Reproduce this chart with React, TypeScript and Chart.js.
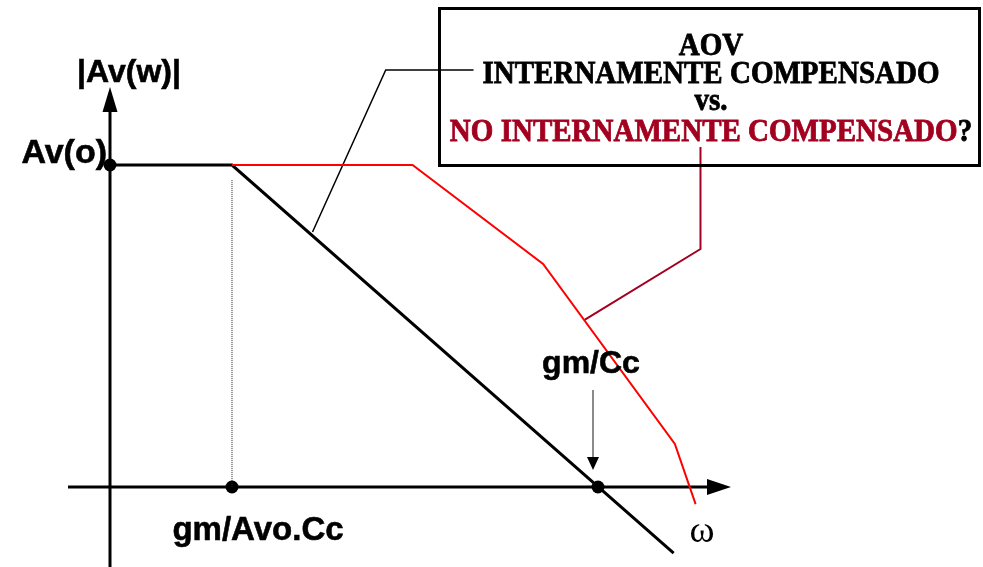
import React, { useEffect, useRef } from "react";
import { Chart, registerables } from "chart.js";

Chart.register(...registerables);

// ---- data (arbitrary linear units: x ~ frequency, y ~ gain) ----
const compensatedX = [0, 10, 46.2];
const compensatedY = [100, 100, -20.5];

const uncompensatedX = [10, 24.8, 35.5, 46.3, 48.0];
const uncompensatedY = [100, 100, 69.3, 13.4, -5.3];

const markerX = [0, 10, 40];
const markerY = [100, 0, 0];

const guideX = [10, 10];
const guideY = [95.3, 0];

const calloutBlackX = [29.8, 22.6, 16.6];
const calloutBlackY = [129.5, 129.5, 79.2];

const calloutRedX = [48.4, 48.4, 38.9];
const calloutRedY = [105.6, 73.9, 51.9];

const axisXRange = [-3.44, 50.9];
const axisYRange = [-24.84, 124.2];

const yAxisTitle = "|Av(w)|";
const dcGainLabel = "Av(o)";
const poleLabel = "gm/Avo.Cc";
const unityLabel = "gm/Cc";
const omegaLabel = "ω";
const boxLines = ["AOV", "INTERNAMENTE COMPENSADO", "vs."];
const boxRedLine = "NO INTERNAMENTE COMPENSADO";
const boxQuestion = "?";

const toPts = (xs: number[], ys: number[]) => xs.map((x, i) => ({ x, y: ys[i] }));

const SANS = "'Liberation Sans', Arial, sans-serif";
const SERIF = "'Liberation Serif', 'Times New Roman', serif";
const DARK_RED = "#a3001f";

const decorPlugin = {
  id: "decor",
  beforeDatasetsDraw(chart: any) {
    const ctx = chart.ctx;
    const sx = chart.scales.x;
    const sy = chart.scales.y;
    const ox = sx.getPixelForValue(0);
    const oy = sy.getPixelForValue(0);
    ctx.save();
    ctx.strokeStyle = "#000";
    ctx.fillStyle = "#000";
    ctx.lineWidth = 3;
    // horizontal axis
    const hx0 = sx.getPixelForValue(axisXRange[0]);
    const hx1 = sx.getPixelForValue(axisXRange[1]);
    ctx.beginPath();
    ctx.moveTo(hx0, oy);
    ctx.lineTo(hx1 - 20, oy);
    ctx.stroke();
    ctx.beginPath();
    ctx.moveTo(hx1, oy);
    ctx.lineTo(hx1 - 24, oy - 8);
    ctx.lineTo(hx1 - 24, oy + 8);
    ctx.closePath();
    ctx.fill();
    // vertical axis
    const vy0 = sy.getPixelForValue(axisYRange[0]);
    const vy1 = sy.getPixelForValue(axisYRange[1]);
    ctx.beginPath();
    ctx.moveTo(ox, vy0);
    ctx.lineTo(ox, vy1 + 20);
    ctx.stroke();
    ctx.beginPath();
    ctx.moveTo(ox, vy1);
    ctx.lineTo(ox - 7.5, vy1 + 25);
    ctx.lineTo(ox + 7.5, vy1 + 25);
    ctx.closePath();
    ctx.fill();
    ctx.restore();
  },
  afterDatasetsDraw(chart: any) {
    const ctx = chart.ctx;
    const sx = chart.scales.x;
    const sy = chart.scales.y;
    const ox = sx.getPixelForValue(0);
    const oy = sy.getPixelForValue(0);
    ctx.save();

    // axis labels
    ctx.fillStyle = "#000";
    ctx.strokeStyle = "#000";
    ctx.lineWidth = 0.6;
    ctx.textBaseline = "alphabetic";
    const label = (t: string, x: number, y: number, align: string, font: string) => {
      ctx.font = font;
      ctx.textAlign = align;
      ctx.fillText(t, x, y);
      ctx.strokeText(t, x, y);
    };
    label(yAxisTitle, ox + 19, 82, "center", `bold 32px ${SANS}`);
    label(dcGainLabel, ox - 3, sy.getPixelForValue(markerY[0]) - 2, "right", `bold 34px ${SANS}`);
    label(poleLabel, sx.getPixelForValue(markerX[1]) + 26, oy + 53, "center", `bold 33px ${SANS}`);
    const ux = sx.getPixelForValue(markerX[2]);
    label(unityLabel, ux - 7, oy - 114, "center", `bold 32px ${SANS}`);
    ctx.font = `38px ${SERIF}`;
    ctx.textAlign = "center";
    ctx.fillText(omegaLabel, sx.getPixelForValue(axisXRange[1]) - 29, oy + 55);

    // small arrow pointing to gm/Cc
    const ax = ux - 5;
    ctx.strokeStyle = "#8a8a8a";
    ctx.lineWidth = 2;
    ctx.beginPath();
    ctx.moveTo(ax, oy - 97);
    ctx.lineTo(ax, oy - 28);
    ctx.stroke();
    ctx.fillStyle = "#000";
    ctx.beginPath();
    ctx.moveTo(ax, oy - 17);
    ctx.lineTo(ax - 6, oy - 30);
    ctx.lineTo(ax + 6, oy - 30);
    ctx.closePath();
    ctx.fill();

    // title box
    ctx.strokeStyle = "#000";
    ctx.lineWidth = 3;
    ctx.strokeRect(439.5, 8.5, 540, 157);

    ctx.font = `bold 32px ${SERIF}`;
    const scaleX = 457 / ctx.measureText(boxLines[1]).width;
    const cx = 711;
    const drawLine = (parts: { t: string; c: string }[], baseline: number) => {
      const widths = parts.map((p) => ctx.measureText(p.t).width);
      const total = widths.reduce((a, b) => a + b, 0);
      ctx.save();
      ctx.translate(cx, baseline);
      ctx.scale(scaleX, 1);
      ctx.textAlign = "left";
      ctx.lineWidth = 0.8;
      let x = -total / 2;
      parts.forEach((p, i) => {
        ctx.fillStyle = p.c;
        ctx.strokeStyle = p.c;
        ctx.fillText(p.t, x, 0);
        ctx.strokeText(p.t, x, 0);
        x += widths[i];
      });
      ctx.restore();
    };
    drawLine([{ t: boxLines[0], c: "#000" }], 55);
    drawLine([{ t: boxLines[1], c: "#000" }], 83);
    drawLine([{ t: boxLines[2], c: "#000" }], 110);
    drawLine(
      [
        { t: boxRedLine, c: DARK_RED },
        { t: boxQuestion, c: "#000" },
      ],
      141
    );
    ctx.restore();
  },
};

export default function App() {
  const ref = useRef<HTMLCanvasElement | null>(null);

  useEffect(() => {
    document.body.style.margin = "0";
    if (!ref.current) return;
    const line = (data: any, color: string, width: number, extra: any = {}) => ({
      data,
      showLine: true,
      borderColor: color,
      backgroundColor: color,
      borderWidth: width,
      pointRadius: 0,
      pointHoverRadius: 0,
      tension: 0,
      borderJoinStyle: "miter",
      ...extra,
    });
    const chart = new Chart(ref.current, {
      type: "scatter",
      data: {
        datasets: [
          line(toPts(guideX, guideY), "#222", 1, { borderDash: [1, 1] }),
          line(toPts(uncompensatedX, uncompensatedY), "#ff0000", 2),
          line(toPts(compensatedX, compensatedY), "#000", 3),
          line(toPts(calloutBlackX, calloutBlackY), "#000", 1.5),
          line(toPts(calloutRedX, calloutRedY), DARK_RED, 2),
          {
            data: toPts(markerX, markerY),
            showLine: false,
            pointRadius: 6.5,
            pointHoverRadius: 6.5,
            pointBackgroundColor: "#000",
            pointBorderColor: "#000",
            pointBorderWidth: 0,
          },
        ],
      },
      options: {
        animation: false,
        responsive: false,
        devicePixelRatio: 1,
        layout: { padding: 0, autoPadding: false },
        plugins: {
          legend: { display: false },
          tooltip: { enabled: false },
          title: { display: false },
        },
        events: [],
        scales: {
          x: { type: "linear", display: false, min: -9.016, max: 71.557 },
          y: { type: "linear", display: false, min: -24.845, max: 151.242 },
        },
      },
      plugins: [decorPlugin],
    } as any);
    return () => chart.destroy();
  }, []);

  return (
    <div style={{ position: "fixed", left: 0, top: 0, width: 983, height: 567, background: "#fff" }}>
      <canvas ref={ref} width={983} height={567} style={{ display: "block" }} />
    </div>
  );
}
